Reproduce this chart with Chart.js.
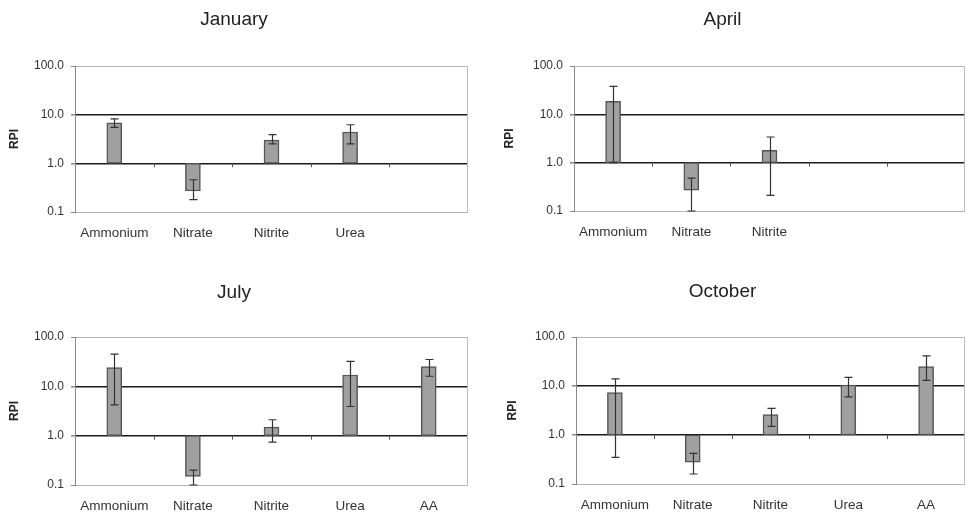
<!DOCTYPE html>
<html>
<head>
<meta charset="utf-8">
<script src="https://cdn.jsdelivr.net/npm/chart.js@4.4.1/dist/chart.umd.min.js"></script>
<style>
  html, body { margin: 0; padding: 0; background: #fff; }
  #wrap { position: relative; width: 967px; height: 515px; }
  .panel { position: absolute; }
</style>
</head>
<body>
<div id="wrap">
  <div class="panel" style="left:0;top:0;width:480px;height:257px"><canvas id="janChart"></canvas></div>
  <div class="panel" style="left:480px;top:0;width:487px;height:257px"><canvas id="aprChart"></canvas></div>
  <div class="panel" style="left:0;top:257px;width:480px;height:258px"><canvas id="julChart"></canvas></div>
  <div class="panel" style="left:480px;top:257px;width:487px;height:258px"><canvas id="octChart"></canvas></div>
</div>
<script>
// ── Data ──────────────────────────────────────────────────────
const categories = ['Ammonium', 'Nitrate', 'Nitrite', 'Urea', 'AA'];
const yTicks = [0.1, 1, 10, 100];

// RPI values per month (null = not measured)
const janRPI = [6.8, 0.27, 3.0, 4.4, null];
const janLow = [5.5, 0.18, 2.5, 2.5, null];
const janHigh = [8.2, 0.46, 3.9, 6.2, null];

const aprRPI = [18.5, 0.27, 1.8, null, null];
const aprLow = [1.0, 0.10, 0.21, null, null];
const aprHigh = [38, 0.48, 3.4, null, null];

const julRPI = [24, 0.15, 1.5, 17, 25];
const julLow = [4.2, 0.10, 0.74, 3.9, 16];
const julHigh = [45, 0.20, 2.1, 32, 35];

const octRPI = [7.3, 0.28, 2.6, 10.5, 25];
const octLow = [0.35, 0.16, 1.5, 6.0, 13];
const octHigh = [14, 0.42, 3.5, 15, 41];

const FONT = "'Liberation Sans', Arial, sans-serif";

// ── Plugins ───────────────────────────────────────────────────
const framePlugin = {
  id: 'frame',
  beforeDatasetsDraw(chart) {
    const { ctx, chartArea: a, scales: { x, y } } = chart;
    ctx.save();
    // right border of plot area
    ctx.strokeStyle = '#bdbdbd';
    ctx.lineWidth = 1;
    ctx.beginPath();
    ctx.moveTo(a.right - 0.5, a.top);
    ctx.lineTo(a.right - 0.5, a.bottom);
    ctx.stroke();
    // small category ticks on the 1.0 line
    const y1 = y.getPixelForValue(1);
    ctx.strokeStyle = '#555';
    for (let i = 1; i < categories.length; i++) {
      const xm = Math.round((x.getPixelForValue(i - 1) + x.getPixelForValue(i)) / 2) + 0.5;
      ctx.beginPath();
      ctx.moveTo(xm, y1);
      ctx.lineTo(xm, y1 + 4);
      ctx.stroke();
    }
    ctx.restore();
  },
};

const errorBarPlugin = {
  id: 'errorBars',
  afterDatasetsDraw(chart, args, opts) {
    const { ctx, scales: { y } } = chart;
    const meta = chart.getDatasetMeta(0);
    ctx.save();
    ctx.strokeStyle = '#333';
    ctx.lineWidth = 1.2;
    opts.low.forEach((lo, i) => {
      const hi = opts.high[i];
      if (lo == null || hi == null || !meta.data[i]) return;
      const xc = Math.round(meta.data[i].x) + 0.5;
      const yLo = y.getPixelForValue(lo);
      const yHi = y.getPixelForValue(hi);
      ctx.beginPath();
      ctx.moveTo(xc, yLo);
      ctx.lineTo(xc, yHi);
      ctx.moveTo(xc - 4, yHi);
      ctx.lineTo(xc + 4, yHi);
      ctx.moveTo(xc - 4, yLo);
      ctx.lineTo(xc + 4, yLo);
      ctx.stroke();
    });
    ctx.restore();
  },
};

// ── Panel builder ─────────────────────────────────────────────
function makePanel(id, title, values, low, high, box) {
  const ctx = document.getElementById(id).getContext('2d');
  const titleSize = 19;
  const titleLine = titleSize * 1.2;
  return new Chart(ctx, {
    type: 'bar',
    plugins: [framePlugin, errorBarPlugin],
    data: {
      labels: categories,
      datasets: [{
        data: values.map(v => (v == null ? null : [1, v])),
        backgroundColor: '#a0a0a0',
        borderColor: '#555',
        borderWidth: 1.5,
        borderSkipped: false,
        barThickness: 15,
      }],
    },
    options: {
      responsive: true,
      maintainAspectRatio: false,
      animation: false,
      layout: { padding: { left: 0, right: box.w - box.right, top: 0, bottom: 0 } },
      plugins: {
        legend: { display: false },
        tooltip: { enabled: false },
        title: {
          display: true,
          text: title,
          color: '#222',
          font: { family: FONT, size: titleSize, weight: 'normal' },
          padding: { top: box.titleY - titleLine / 2, bottom: box.top - box.titleY - titleLine / 2 },
        },
        errorBars: { low, high },
      },
      scales: {
        x: {
          grid: { display: false },
          border: { display: false },
          ticks: {
            color: '#333',
            padding: 5,
            maxRotation: 0,
            font: { family: FONT, size: 13.5 },
            callback: (v, i) => (values[i] == null ? '' : categories[i]),
          },
          afterFit: (s) => { s.height = box.h - box.bottom; },
        },
        y: {
          type: 'logarithmic',
          min: 0.1,
          max: 100,
          afterBuildTicks: (s) => { s.ticks = yTicks.map(v => ({ value: v })); },
          afterFit: (s) => { s.width = box.left; },
          border: { display: true, color: '#888', width: 1 },
          grid: {
            tickLength: 4,
            color: (c) => (c.tick && (c.tick.value === 1 || c.tick.value === 10) ? '#1a1a1a' : '#b5b5b5'),
            lineWidth: (c) => (c.tick && (c.tick.value === 1 || c.tick.value === 10) ? 1.5 : 1),
            tickColor: '#888',
          },
          ticks: {
            color: '#333',
            padding: 7,
            font: { family: FONT, size: 12 },
            callback: (v) => Number(v).toFixed(1),
          },
          title: {
            display: true,
            text: 'RPI',
            color: '#222',
            font: { family: FONT, size: 12, weight: 'bold' },
            padding: { top: box.rpiX - 7.2, bottom: 0 },
          },
        },
      },
    },
  });
}

makePanel('janChart', 'January', janRPI, janLow, janHigh,
  { w: 480, h: 257, left: 75, right: 468, top: 66, bottom: 212, titleY: 20, rpiX: 15 });
makePanel('aprChart', 'April', aprRPI, aprLow, aprHigh,
  { w: 487, h: 257, left: 94, right: 485, top: 66, bottom: 211, titleY: 20, rpiX: 30 });
makePanel('julChart', 'July', julRPI, julLow, julHigh,
  { w: 480, h: 258, left: 75, right: 468, top: 80, bottom: 228, titleY: 36, rpiX: 15 });
makePanel('octChart', 'October', octRPI, octLow, octHigh,
  { w: 487, h: 258, left: 96, right: 485, top: 80, bottom: 227, titleY: 35, rpiX: 33 });
</script>
</body>
</html>
